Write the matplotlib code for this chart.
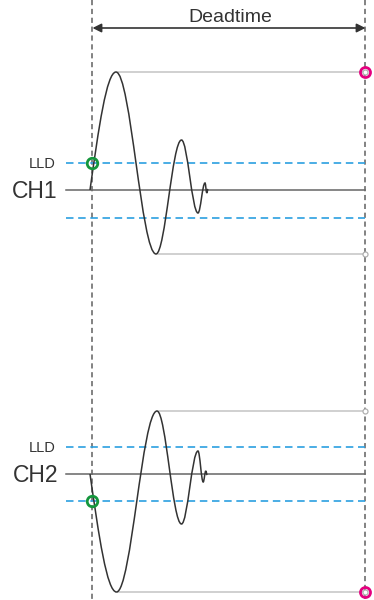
import numpy as np
import matplotlib.pyplot as plt
from matplotlib.path import Path
from matplotlib.patches import PathPatch

# --- data (pixel units, y grows downwards) ---
channels = ['CH1', 'CH2']
baseline_y = [190, 474]
lld_upper = [163, 447]
lld_lower = [218, 501]

# extrema of each pulse: time (x) and amplitude above baseline
ch1_t = [90, 116, 156, 181.5, 198, 205, 206.8, 208]
ch1_amp = [0, 118, -64, 50, -23, 7, -3, 1]
ch2_t = [90, 116.5, 157, 181.5, 198, 203.2, 205.8, 207.2]
ch2_amp = [0, -118, 63, -50, 23, -8, 3, -1]

# trigger points (green) and held extrema markers
trigger_y = [163, 501]
peak_marker_color = [['#e4007f', '#bbbbbb'], ['#bbbbbb', '#e4007f']]

deadtime_start = 92.5
deadtime_end = 365.5
line_start = 66

plt.rcParams['font.family'] = ['Liberation Sans', 'DejaVu Sans']

fig = plt.figure(figsize=(3.74, 6.0), dpi=100)
ax = fig.add_axes([0, 0, 1, 1])
ax.set_xlim(0, 374)
ax.set_ylim(600, 0)
ax.axis('off')


def pulse_path(ts, amps, base):
    """Build a smooth path through the extrema with cubic Bezier pieces."""
    pts = [(ts[0], base - amps[0])]
    codes = [Path.MOVETO]
    for i in range(1, len(ts)):
        x0, y0 = ts[i - 1], base - amps[i - 1]
        x1, y1 = ts[i], base - amps[i]
        dx, dy = x1 - x0, y1 - y0
        if i == 1:
            # quarter sine from the zero crossing
            c1 = (x0 + 0.33 * dx, y0 + 0.52 * dy)
            c2 = (x0 + 0.64 * dx, y1)
        else:
            k = 1 - 2 / np.pi
            c1 = (x0 + k * dx, y0)
            c2 = (x1 - k * dx, y1)
        pts += [c1, c2, (x1, y1)]
        codes += [Path.CURVE4] * 3
    return Path(pts, codes)


# dead time window
for xv in [deadtime_start, deadtime_end]:
    ax.plot([xv, xv], [0, 600], color='#606060', lw=1.1,
            linestyle=(0, (3.4, 2.4)), zorder=1)

ax.annotate('', xy=(deadtime_start, 28), xytext=(deadtime_end, 28),
            arrowprops=dict(arrowstyle='<|-|>', color='#333333', lw=1.2,
                            mutation_scale=13, shrinkA=0, shrinkB=0))
ax.text((deadtime_start + deadtime_end) / 2 + 1.5, 22, 'Deadtime', fontsize=14,
        color='#333333', ha='center', va='baseline')

pulses = [(ch1_t, ch1_amp), (ch2_t, ch2_amp)]

for i, name in enumerate(channels):
    base = baseline_y[i]
    ts, amps = pulses[i]

    # baseline and thresholds
    ax.plot([line_start, deadtime_end], [base, base], color='#666666', lw=1.1, zorder=2)
    for yv in [lld_upper[i], lld_lower[i]]:
        ax.plot([line_start, deadtime_end], [yv, yv], color='#2b9fe0', lw=1.2,
                linestyle=(0, (4.5, 2.8)), zorder=2)

    # held maximum / minimum
    k_max = int(np.argmax(amps))
    k_min = int(np.argmin(amps))
    for j, k in enumerate([k_max, k_min]):
        yv = base - amps[k]
        ax.plot([ts[k] + 2, deadtime_end], [yv, yv], color='#c4c4c4', lw=1.1, zorder=2)
        ax.plot(deadtime_end, yv, 'o', ms=3.6, mfc='white', mec='#b0b0b0',
                mew=0.9, zorder=4)
        if peak_marker_color[i][j] == '#e4007f':
            ax.plot(deadtime_end, yv, 'o', ms=7.2, mfc='none', mec='#e4007f',
                    mew=2.0, zorder=5)

    # pulse
    ax.add_patch(PathPatch(pulse_path(ts, amps, base), fc='none',
                           ec='#333333', lw=1.1, zorder=3))

    # trigger point
    ax.plot(deadtime_start, trigger_y[i], 'o', ms=7.6, mfc='none',
            mec='#14963c', mew=2.0, zorder=5)

    # labels
    ax.text(56, lld_upper[i] + 5.5, 'LLD', fontsize=10.5, color='#333333',
            ha='right', va='baseline')
    ax.text(58, base + 8.5, name, fontsize=16.5, color='#333333',
            ha='right', va='baseline')

fig.savefig('out.png', dpi=100)
